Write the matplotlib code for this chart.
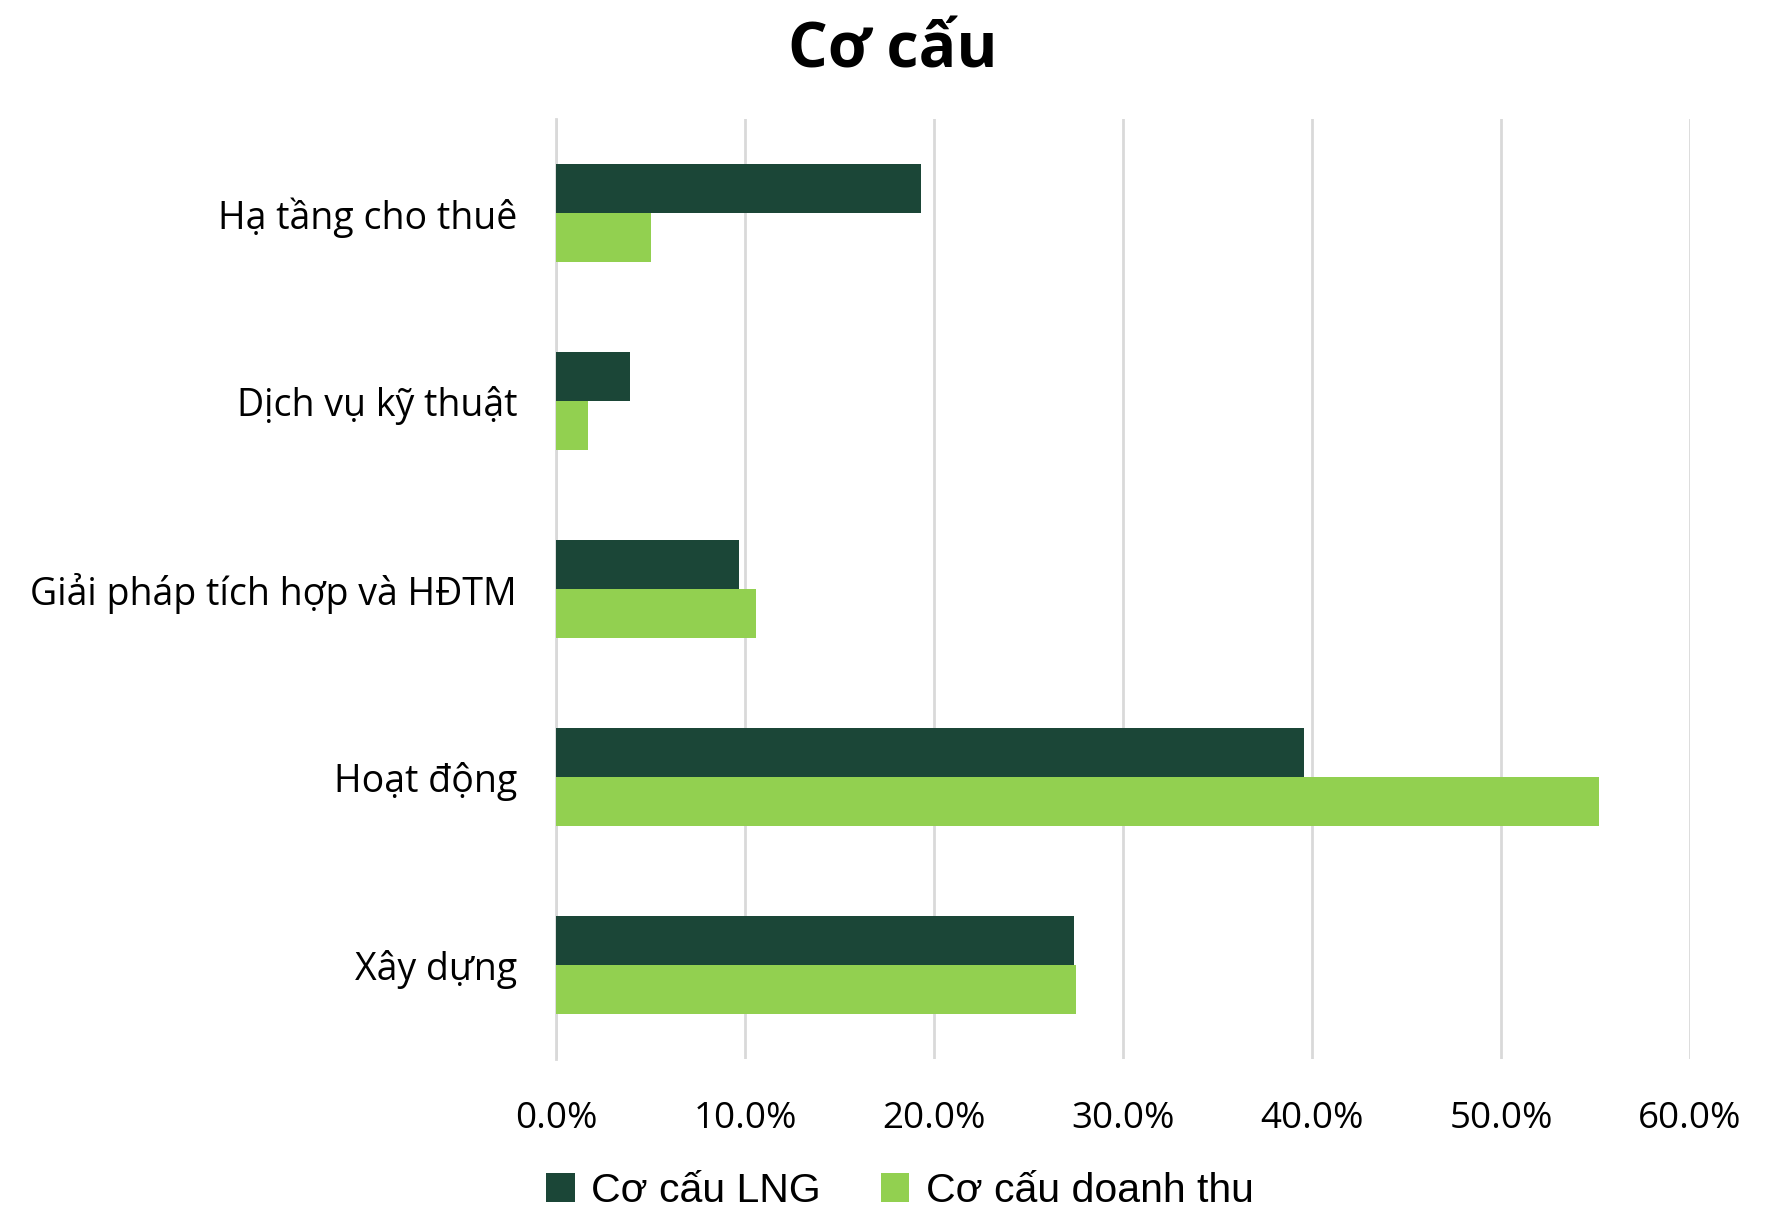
import matplotlib
matplotlib.use('Agg')
import matplotlib.pyplot as plt
import numpy as np

plt.rcParams['font.family'] = ['Open Sans', 'DejaVu Sans']

categories = ['Hạ tầng cho thuê', 'Dịch vụ kỹ thuật', 'Giải pháp tích hợp và HĐTM',
              'Hoạt động', 'Xây dựng']
lng_share = [19.3, 3.9, 9.7, 39.6, 27.4]
revenue_share = [5.0, 1.7, 10.6, 55.2, 27.5]
series_names = ['Cơ cấu LNG', 'Cơ cấu doanh thu']
xticks = [0, 10, 20, 30, 40, 50, 60]

dark = '#1b4637'
light = '#92d050'

fig = plt.figure(figsize=(17.76, 12.07), dpi=100)
ax = fig.add_axes([556 / 1776, 1 - 1059 / 1207, (1690 - 556) / 1776, (1059 - 119) / 1207])

y = np.arange(len(categories))
h = 0.26
ax.barh(y - h / 2, lng_share, height=h, color=dark, label=series_names[0], zorder=3)
ax.barh(y + h / 2, revenue_share, height=h, color=light, label=series_names[1], zorder=3)

ax.set_ylim(len(categories) - 0.5, -0.5)
ax.set_xlim(0, 60)
ax.set_yticks(y)
ax.set_yticklabels(categories, fontsize=27)
ax.set_xticks(xticks)
ax.set_xticklabels([f'{v:.1f}%' for v in xticks], fontsize=26.5)
ax.tick_params(length=0)
ax.tick_params(axis='y', pad=28)
ax.tick_params(axis='x', pad=30)

ax.grid(axis='x', color='#d9d9d9', linewidth=2, zorder=0)
for s in ['top', 'right', 'bottom']:
    ax.spines[s].set_visible(False)
ax.spines['left'].set_color('#d9d9d9')
ax.spines['left'].set_linewidth(2)

fig.text(893 / 1776, 1 - 51 / 1207, 'Cơ cấu', ha='center', va='center',
         fontsize=45, fontweight='bold')

fig.legend(loc='center', bbox_to_anchor=(900 / 1776, 1 - 1191 / 1207), ncol=2,
           frameon=False, prop={'family': ['Liberation Sans', 'DejaVu Sans'], 'size': 29.5},
           handlelength=0.7, handleheight=0.7, handletextpad=0.4, columnspacing=1.45)

plt.savefig('out.png', dpi=100)
